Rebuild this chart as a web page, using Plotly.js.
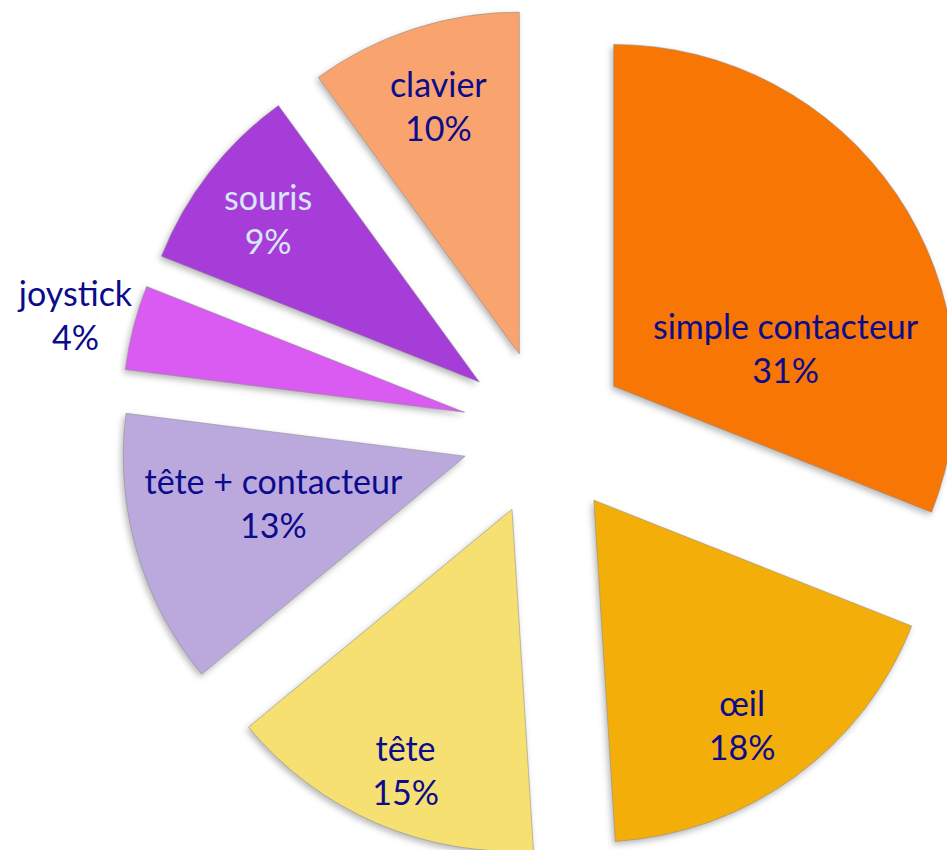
<!DOCTYPE html>
<html>
<head>
<meta charset="utf-8">
<script src="https://cdn.plot.ly/plotly-3.0.1.min.js"></script>
<style>
  html, body { margin: 0; padding: 0; background: #ffffff; overflow: hidden; }
  #chart { width: 1000px; height: 870px; }
  .slice path.surface { filter: drop-shadow(-2px 3px 3px rgba(0,0,0,0.28)); }
</style>
</head>
<body>
<div id="chart"></div>
<script>
// Data
const categories = ["simple contacteur", "œil", "tête", "tête + contacteur", "joystick", "souris", "clavier"];
const shares = [31, 18, 15, 13, 4, 9, 10];

// Styling
const sliceColors = ["#F87604", "#F4AE0A", "#F6E072", "#BBA9DE", "#DA5BF2", "#A63DD9", "#F9A46E"];
const labelColors = ["#0B0B8C", "#0B0B8C", "#0B0B8C", "#0B0B8C", "#0B0B8C", "#D8E6FA", "#0B0B8C"];
const fontSize = 34;
const nb = "\u00A0";
const sp = (n) => nb.repeat(n);
// non-breaking spaces / blank lines only nudge where each label sits inside its slice
const labelTemplates = [
  nb + "<br>" + nb + "<br>" + nb + "<br>" + sp(4) + "%{label}<br>" + sp(4) + "%{percent:.0%}",
  nb + "<br>" + nb + "<br>" + sp(4) + "%{label}<br>" + sp(4) + "%{percent:.0%}",
  nb + "<br>" + nb + "<br>%{label}" + sp(3) + "<br>%{percent:.0%}" + sp(3),
  sp(10) + "%{label}<br>" + sp(10) + "%{percent:.0%}<br>" + nb,
  "%{label}" + sp(22) + "<br>%{percent:.0%}" + sp(22) + "<br>" + nb,
  "%{label}<br>%{percent:.0%}",
  "%{label}<br>%{percent:.0%}"
];

const trace = {
  type: "pie",
  labels: categories,
  values: shares,
  sort: false,
  direction: "clockwise",
  rotation: 0,
  pull: 0.243,
  hole: 0,
  marker: {
    colors: sliceColors,
    line: { color: "rgba(140,140,140,0.55)", width: 1 }
  },
  texttemplate: labelTemplates,
  textposition: "inside",
  insidetextorientation: "horizontal",
  insidetextfont: { family: "Lato, 'Open Sans', sans-serif", size: fontSize, color: labelColors },
  domain: { x: [0.12, 0.97], y: [0.0138, 0.9908] },
  showlegend: false,
  hoverinfo: "label+percent"
};

const layout = {
  width: 1000,
  height: 870,
  margin: { l: 0, r: 0, t: 0, b: 0, pad: 0 },
  paper_bgcolor: "#ffffff",
  plot_bgcolor: "#ffffff",
  showlegend: false,
  uniformtext: { mode: "show", minsize: fontSize }
};

Plotly.newPlot("chart", [trace], layout, { displayModeBar: false, staticPlot: true });
</script>
</body>
</html>
